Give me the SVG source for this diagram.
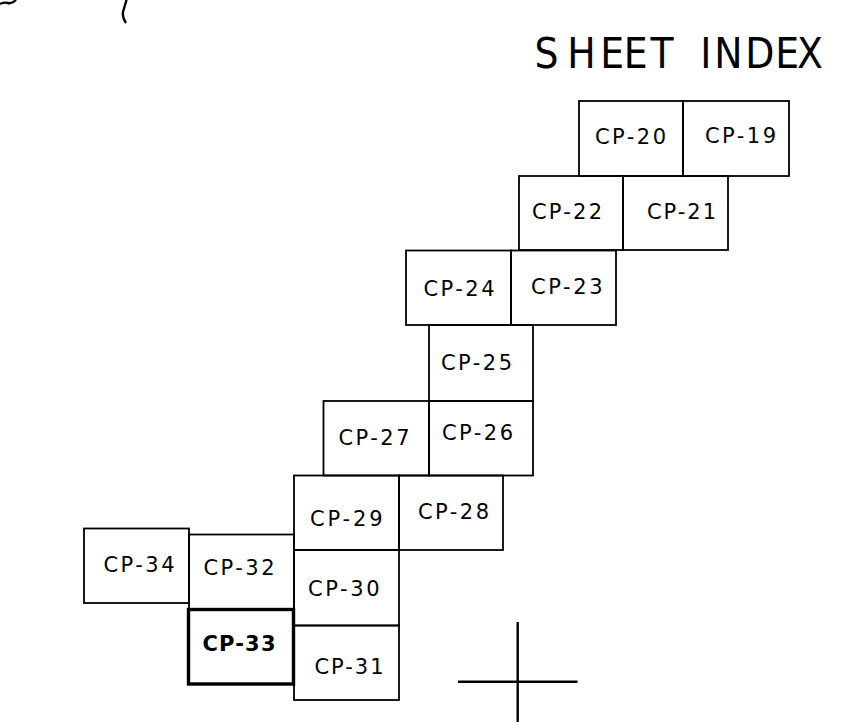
<svg xmlns="http://www.w3.org/2000/svg" width="847" height="722" viewBox="0 0 847 722">
<style>
.box{fill:none;stroke:#000;stroke-width:1.8}
.bold{fill:none;stroke:#000;stroke-width:3.4}
.lbl{font-family:"DejaVu Sans","Liberation Sans",sans-serif;font-size:21px;fill:#000}
.lblb{font-family:"DejaVu Sans","Liberation Sans",sans-serif;font-size:21px;font-weight:bold;fill:#000}
.title{font-family:"DejaVu Sans","Liberation Sans",sans-serif;font-size:42px;fill:#000}
.ln{fill:none;stroke:#000;stroke-width:2.4}
</style>
<rect width="847" height="722" fill="#fff"/>
<g id="fragments">
<path class="ln" d="M0 4 Q4 2 8 3 Q12 4 16 0"/>
<path class="ln" d="M126.5 0 L123 12 Q122 17 126 23"/>
</g>
<text class="title" transform="translate(537,68) scale(0.9,1)" x="-2.8 33.7 70.3 96.5 126 160 181.5 197 231.5 264.8 289" y="0">SHEET INDEX</text>
<g id="cp20"><rect class="box" x="579" y="101" width="104" height="75"/><text class="lbl" x="595" y="144" textLength="71" lengthAdjust="spacing">CP-20</text></g>
<g id="cp19"><rect class="box" x="683" y="101" width="106" height="75"/><text class="lbl" x="705" y="142.5" textLength="71" lengthAdjust="spacing">CP-19</text></g>
<g id="cp22"><rect class="box" x="519" y="176" width="104" height="74"/><text class="lbl" x="532" y="219" textLength="70" lengthAdjust="spacing">CP-22</text></g>
<g id="cp21"><rect class="box" x="623" y="176" width="105" height="74"/><text class="lbl" x="647" y="219" textLength="69" lengthAdjust="spacing">CP-21</text></g>
<g id="cp24"><rect class="box" x="406" y="250.5" width="105" height="74.5"/><text class="lbl" x="423.5" y="296" textLength="71" lengthAdjust="spacing">CP-24</text></g>
<g id="cp23"><rect class="box" x="511" y="250.5" width="105" height="74.5"/><text class="lbl" x="531" y="294" textLength="71.5" lengthAdjust="spacing">CP-23</text></g>
<g id="cp25"><rect class="box" x="429" y="325" width="104" height="76"/><text class="lbl" x="441" y="370" textLength="71" lengthAdjust="spacing">CP-25</text></g>
<g id="cp27"><rect class="box" x="323.5" y="401" width="105.5" height="74.5"/><text class="lbl" x="338.5" y="445" textLength="71" lengthAdjust="spacing">CP-27</text></g>
<g id="cp26"><rect class="box" x="429" y="401" width="104" height="74.5"/><text class="lbl" x="442" y="440" textLength="71" lengthAdjust="spacing">CP-26</text></g>
<g id="cp29"><rect class="box" x="294" y="475.5" width="105" height="74.5"/><text class="lbl" x="310" y="525.5" textLength="72.5" lengthAdjust="spacing">CP-29</text></g>
<g id="cp28"><rect class="box" x="399" y="475.5" width="104" height="74.5"/><text class="lbl" x="418" y="519" textLength="71" lengthAdjust="spacing">CP-28</text></g>
<g id="cp34"><rect class="box" x="84" y="528.5" width="105" height="74.5"/><text class="lbl" x="103.5" y="572" textLength="71" lengthAdjust="spacing">CP-34</text></g>
<g id="cp32"><rect class="box" x="189" y="534.5" width="105" height="74.5"/><text class="lbl" x="203.5" y="575" textLength="71" lengthAdjust="spacing">CP-32</text></g>
<g id="cp30"><rect class="box" x="294" y="550" width="105" height="75.5"/><text class="lbl" x="308" y="595.5" textLength="71.5" lengthAdjust="spacing">CP-30</text></g>
<g id="cp33"><rect class="bold" x="188.5" y="609.5" width="105" height="74.5"/><text class="lblb" x="202.5" y="651" textLength="73" lengthAdjust="spacing">CP-33</text></g>
<g id="cp31"><rect class="box" x="294" y="625.5" width="105" height="74.5"/><text class="lbl" x="314.5" y="673.5" textLength="69" lengthAdjust="spacing">CP-31</text></g>
<g id="connectors">
<line class="ln" x1="517.7" y1="622" x2="517.7" y2="722"/>
<line class="ln" x1="458" y1="681.7" x2="577.5" y2="681.7"/>
</g>
</svg>
